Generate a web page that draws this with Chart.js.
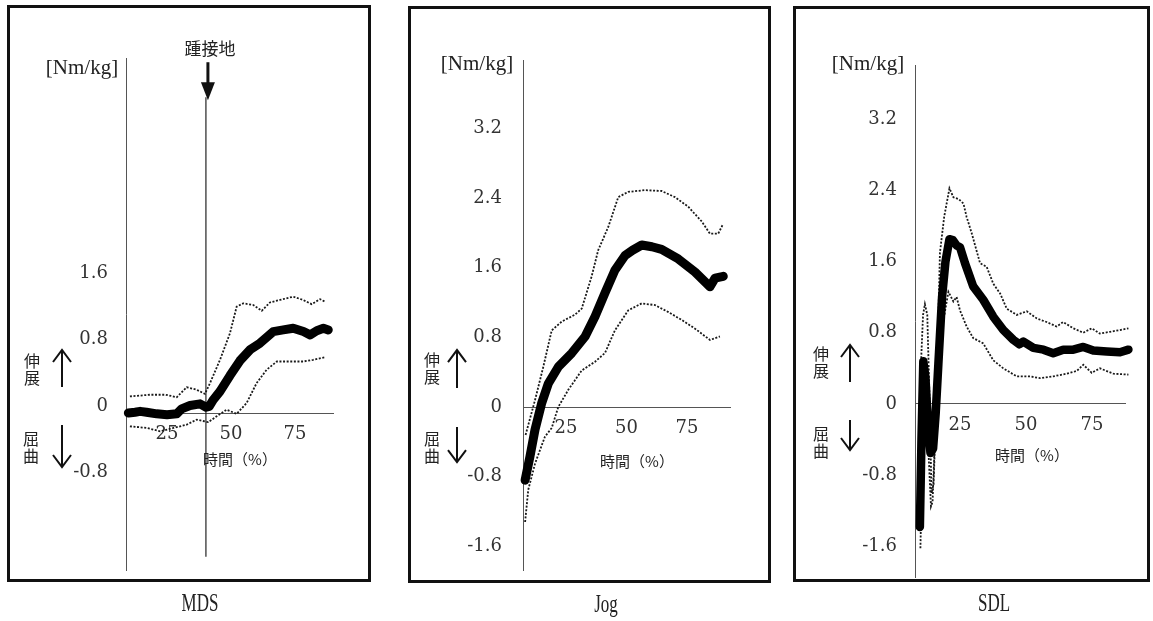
<!DOCTYPE html>
<html lang="ja">
<head>
<meta charset="utf-8">
<title>膝関節モーメント</title>
<script src="https://cdn.jsdelivr.net/npm/chart.js@4.4.1/dist/chart.umd.min.js"></script>
<style>
  html, body { margin: 0; padding: 0; background: #fff; }
  body { width: 1153px; height: 621px; position: relative; overflow: hidden; }
  .box { position: absolute; border: 3px solid #111; box-sizing: border-box; }
  canvas { position: absolute; top: 0; }
  .t { position: absolute; transform: translate(-50%, -50%); white-space: nowrap; color: #222; }
  .unit { font-family: "Liberation Serif", serif; font-size: 21px; }
  .jp { font-family: "Noto Sans CJK JP", sans-serif; font-size: 16px; line-height: 17px; text-align: center; }
  .xt { font-family: "Noto Sans CJK JP", sans-serif; font-size: 15px; }
  .heel { font-family: "Noto Sans CJK JP", sans-serif; font-size: 17px; }
  .name { font-family: "Liberation Serif", serif; font-size: 25px; transform: translate(-50%, -50%) scaleX(0.68); }
</style>
</head>
<body>
<div class="box" style="left:7px;top:5px;width:364px;height:577px"></div>
<div class="box" style="left:408px;top:6px;width:363px;height:577px"></div>
<div class="box" style="left:793px;top:6px;width:357px;height:576px"></div>

<canvas id="mds" width="364" height="621" style="left:7px"></canvas>
<canvas id="jog" width="363" height="621" style="left:408px"></canvas>
<canvas id="sdl" width="357" height="621" style="left:793px"></canvas>

<!-- 単位・軸タイトル・注記 -->
<div class="t unit" style="left:82px;top:67px">[Nm/kg]</div>
<div class="t unit" style="left:477px;top:63px">[Nm/kg]</div>
<div class="t unit" style="left:868px;top:63px">[Nm/kg]</div>

<div class="t jp" style="left:32px;top:369px">伸<br>展</div>
<div class="t jp" style="left:31px;top:447px">屈<br>曲</div>
<div class="t jp" style="left:432px;top:368px">伸<br>展</div>
<div class="t jp" style="left:432px;top:447px">屈<br>曲</div>
<div class="t jp" style="left:821px;top:362px">伸<br>展</div>
<div class="t jp" style="left:821px;top:442px">屈<br>曲</div>

<div class="t xt" style="left:240px;top:458px">時間（%）</div>
<div class="t xt" style="left:637px;top:460px">時間（%）</div>
<div class="t xt" style="left:1032px;top:454px">時間（%）</div>

<div class="t heel" style="left:210px;top:47px">踵接地</div>

<div class="t name" style="left:200px;top:603px">MDS</div>
<div class="t name" style="left:606px;top:604px">Jog</div>
<div class="t name" style="left:994px;top:603px">SDL</div>

<script>
// 目盛り
var xTicks = [25, 50, 75];
var yTicksMDS = [-0.8, 0, 0.8, 1.6];
var yTicks = [-1.6, -0.8, 0, 0.8, 1.6, 2.4, 3.2];

// MDS [時間(%), モーメント]
var mdsMean = [[9.9,0.0],[12.5,0.01],[14.5,0.02],[17,0.01],[21,-0.01],[25,-0.02],[28.8,-0.01],[30.7,0.05],[34,0.09],[37.9,0.11],[40.3,0.07],[41.5,0.08],[43.1,0.16],[45.7,0.26],[49.6,0.45],[53.5,0.63],[57.4,0.76],[61.3,0.84],[63.9,0.91],[66.5,0.98],[70.4,1.0],[74.3,1.02],[78.3,0.98],[80.9,0.94],[83.5,0.99],[86.1,1.02],[88.0,1.0]];
var mdsUpper = [[10.5,0.20],[14.5,0.21],[18.4,0.22],[24.5,0.22],[28.8,0.19],[32.7,0.31],[36.6,0.28],[39.8,0.23],[41.8,0.36],[45.7,0.64],[49.6,0.96],[52.2,1.28],[54.8,1.32],[58.7,1.30],[62.0,1.23],[65.2,1.33],[69.1,1.36],[74.3,1.40],[78.2,1.36],[81.5,1.31],[84.8,1.37],[86.7,1.34]];
var mdsLower = [[10.5,-0.16],[17.1,-0.18],[22.3,-0.22],[27.5,-0.18],[32.7,-0.14],[36.6,-0.08],[41.1,-0.11],[44.4,-0.04],[48.3,0.04],[52.2,-0.01],[56.1,0.12],[60.0,0.36],[63.9,0.52],[67.9,0.62],[73.0,0.62],[78.2,0.62],[82.1,0.64],[86.7,0.67]];
var heelX = 40.2;
var heelLine = [[heelX,-1.73],[heelX,3.80]];

// Jog
var jogMean = [[8.1,-0.84],[10.1,-0.57],[12.2,-0.26],[14.9,0.04],[17.7,0.27],[21.8,0.46],[27.4,0.62],[32.9,0.81],[37.0,1.04],[41.1,1.31],[45.2,1.57],[49.4,1.74],[52.5,1.80],[56.3,1.86],[60.5,1.84],[64.5,1.81],[71.4,1.70],[78.3,1.55],[84.5,1.38],[86.6,1.48],[90.0,1.50]];
var jogUpper = [[8.3,-0.32],[12.2,0.08],[15.6,0.46],[19.1,0.88],[23.2,0.98],[28.7,1.06],[31.5,1.13],[35.6,1.50],[38.3,1.80],[42.5,2.07],[46.6,2.41],[50.7,2.47],[57.6,2.49],[64.5,2.48],[70.0,2.41],[75.5,2.30],[81.1,2.13],[84.5,1.99],[87.9,1.99],[89.7,2.09]];
var jogLower = [[8.1,-1.32],[9.4,-0.95],[12.2,-0.65],[16.3,-0.34],[19.1,-0.24],[21.8,0.0],[26.0,0.20],[31.5,0.42],[37.0,0.52],[41.1,0.62],[45.2,0.88],[50.7,1.11],[56.3,1.19],[61.8,1.17],[67.3,1.09],[72.8,1.00],[78.3,0.90],[84.5,0.77],[88.6,0.81]];

// SDL
var sdlMean = [[9.8,-1.38],[10.4,-0.4],[11.1,0.48],[11.9,0.3],[12.8,-0.2],[13.8,-0.55],[14.8,-0.5],[15.8,-0.1],[16.8,0.45],[18.2,1.2],[19.5,1.6],[21.0,1.85],[22.3,1.84],[23.7,1.78],[25.0,1.76],[26.9,1.58],[30.0,1.32],[33.8,1.17],[37.6,0.98],[41.4,0.83],[45.2,0.72],[47.5,0.67],[49.0,0.70],[52.8,0.63],[56.6,0.61],[60.3,0.57],[64.1,0.61],[67.9,0.61],[71.7,0.64],[75.5,0.60],[80.6,0.59],[85.6,0.58],[88.8,0.61],[90.0,0.57]];
var sdlUpper = [[9.2,-0.9],[10.0,0.3],[11.0,1.0],[11.7,1.12],[12.6,1.0],[13.5,0.0],[14.2,-1.0],[15.0,-0.9],[16.0,0.0],[17.4,1.7],[19.0,2.1],[21.0,2.42],[22.5,2.32],[24.5,2.30],[26.3,2.25],[27.5,2.1],[29.4,1.92],[32.6,1.58],[35.1,1.54],[37.6,1.35],[40.2,1.24],[42.7,1.07],[46.5,1.0],[50.3,1.04],[54.1,0.96],[57.8,0.92],[61.6,0.87],[64.1,0.92],[67.9,0.85],[71.7,0.80],[74.9,0.85],[78.0,0.79],[81.8,0.81],[85.6,0.83],[88.8,0.85],[89.6,0.82]];
var sdlLower = [[10.0,-1.62],[10.6,-0.8],[11.4,0.2],[12.0,0.3],[13.0,-0.5],[14.0,-1.15],[14.6,-1.1],[15.6,-0.3],[17.0,0.4],[18.5,0.9],[20.6,1.26],[22.5,1.15],[23.7,1.2],[25.0,1.05],[27.5,0.87],[30.0,0.74],[33.8,0.68],[37.6,0.49],[41.4,0.40],[46.5,0.31],[51.5,0.31],[55.3,0.29],[60.3,0.31],[65.4,0.34],[69.2,0.37],[71.7,0.44],[74.9,0.35],[78.0,0.40],[83.1,0.34],[88.8,0.33],[89.6,0.30]];

function pts(arr) {
    return arr.map(function (p) { return {x: p[0], y: p[1]}; });
}

function series(mean, upper, lower, w) {
    // 平均が一番上に描かれるように先頭に置く
    return [
        {data: pts(mean), borderColor: '#000', borderWidth: w, borderJoinStyle: 'round', borderCapStyle: 'round', pointRadius: 0, clip: false},
        {data: pts(upper), borderColor: '#1a1a1a', borderWidth: 1.8, borderDash: [2, 1.6], pointRadius: 0, clip: false},
        {data: pts(lower), borderColor: '#1a1a1a', borderWidth: 1.8, borderDash: [2, 1.6], pointRadius: 0, clip: false}
    ];
}

function drawArrow(ctx, x, y0, y1) {
    var dir = y1 < y0 ? 1 : -1;
    ctx.beginPath();
    ctx.moveTo(x, y0);
    ctx.lineTo(x, y1);
    ctx.moveTo(x - 9, y1 + dir * 12);
    ctx.lineTo(x, y1);
    ctx.lineTo(x + 9, y1 + dir * 12);
    ctx.stroke();
}

// 伸展↑ 屈曲↓ の矢印
var sideArrows = {
    id: 'sideArrows',
    afterDraw: function (chart, args, o) {
        if (!o || o.dx === undefined) return;
        var ctx = chart.ctx;
        var x = chart.chartArea.left + o.dx;
        var z = chart.scales.y.getPixelForValue(0);
        ctx.save();
        ctx.strokeStyle = '#111';
        ctx.lineWidth = 2;
        drawArrow(ctx, x, z - o.up[0], z - o.up[1]);
        drawArrow(ctx, x, z + o.down[0], z + o.down[1]);
        if (o.heel) {
            // 踵接地の矢印
            var hx = chart.scales.x.getPixelForValue(heelX) + 2;
            var top = chart.scales.y.getPixelForValue(heelLine[1][1]);
            ctx.lineWidth = 3;
            ctx.beginPath();
            ctx.moveTo(hx, top - 35);
            ctx.lineTo(hx, top - 12);
            ctx.stroke();
            ctx.fillStyle = '#111';
            ctx.beginPath();
            ctx.moveTo(hx - 7, top - 15);
            ctx.lineTo(hx + 7, top - 15);
            ctx.lineTo(hx, top + 3);
            ctx.closePath();
            ctx.fill();
        }
        ctx.restore();
    }
};

var tickFont = {family: 'DejaVu Serif', size: 18};

function panel(id, p) {
    return new Chart(document.getElementById(id), {
        type: 'line',
        data: {datasets: p.datasets},
        options: {
            responsive: false,
            animation: false,
            devicePixelRatio: 1,
            layout: {padding: p.pad},
            plugins: {legend: {display: false}, tooltip: {enabled: false}, sideArrows: p.arrows},
            scales: {
                x: {
                    type: 'linear', min: p.x[0], max: p.x[1], position: {y: 0},
                    afterBuildTicks: function (s) { s.ticks = xTicks.map(function (v) { return {value: v}; }); },
                    ticks: {padding: 11, font: tickFont, color: '#333', maxRotation: 0, autoSkip: false},
                    grid: {drawOnChartArea: false, drawTicks: false, color: 'rgba(0,0,0,0)'},
                    border: {color: '#555', width: 1}
                },
                y: {
                    type: 'linear', min: p.y[0], max: p.y[1],
                    afterBuildTicks: function (s) { s.ticks = p.yTicks.map(function (v) { return {value: v}; }); },
                    afterFit: function (s) { s.width = 60; },
                    ticks: {padding: p.tickPad, labelOffset: p.labelOffset || 0, font: tickFont, color: '#333', autoSkip: false,
                            callback: function (v) { return String(v); }},
                    grid: {drawOnChartArea: false, drawTicks: false, color: 'rgba(0,0,0,0)'},
                    border: {color: '#555', width: 1}
                }
            }
        },
        plugins: [sideArrows]
    });
}

var mdsSets = series(mdsMean, mdsUpper, mdsLower, 9);
mdsSets.push({data: pts(heelLine), borderColor: '#222', borderWidth: 1.2, pointRadius: 0, clip: false});

panel('mds', {
    datasets: mdsSets,
    x: [8.98, 89.84], y: [-1.889, 4.272], yTicks: yTicksMDS,
    pad: {left: 59, right: 38, top: 58, bottom: 51},
    tickPad: 18, labelOffset: -7,
    arrows: {dx: -64, up: [26, 63], down: [12, 54], heel: true}
});

panel('jog', {
    datasets: series(jogMean, jogUpper, jogLower, 9),
    x: [7.23, 92.77], y: [-1.871, 3.984], yTicks: yTicks,
    pad: {left: 55, right: 41, top: 60, bottom: 51},
    tickPad: 21,
    arrows: {dx: -66, up: [19, 57], down: [20, 55]}
});

panel('sdl', {
    datasets: series(sdlMean, sdlUpper, sdlLower, 8.5),
    x: [7.95, 87.5], y: [-1.942, 3.805], yTicks: yTicks,
    pad: {left: 62, right: 25, top: 65, bottom: 44},
    tickPad: 18,
    arrows: {dx: -65, up: [22, 59], down: [16, 46]}
});
</script>
</body>
</html>
